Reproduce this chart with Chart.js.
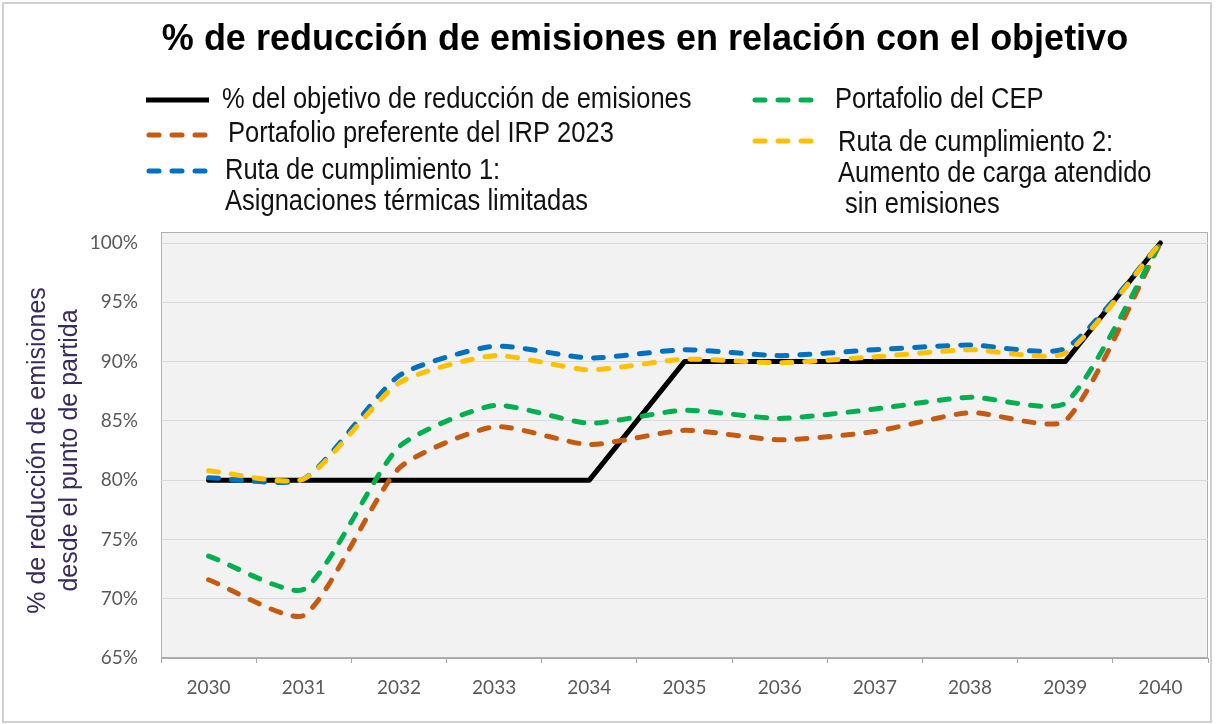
<!DOCTYPE html>
<html>
<head>
<meta charset="utf-8">
<script src="https://cdn.jsdelivr.net/npm/chart.js@4"></script>
<style>
  html, body { margin: 0; padding: 0; background: #fff; }
  #wrap { width: 1225px; height: 724px; }
</style>
</head>
<body>
<div id="wrap"><canvas id="chart" width="1225" height="724"></canvas></div>
<script>
const years = ['2030', '2031', '2032', '2033', '2034', '2035', '2036', '2037', '2038', '2039', '2040'];
const objetivo = [80, 80, 80, 80, 80, 90, 90, 90, 90, 90, 100];
const irp2023 = [71.6, 68.6, 81.0, 84.5, 83.0, 84.2, 83.4, 84.1, 85.7, 85.0, 100];
const cep = [73.6, 70.8, 82.8, 86.3, 84.8, 85.9, 85.2, 86.0, 87.0, 86.5, 100];
const ruta1 = [80.2, 80.1, 88.8, 91.3, 90.3, 91.0, 90.5, 91.0, 91.4, 91.1, 100];
const ruta2 = [80.8, 80.1, 88.2, 90.5, 89.3, 90.2, 89.9, 90.4, 91.0, 90.7, 100];

const titulo = '% de reducción de emisiones en relación con el objetivo';
const tituloEje = ['% de reducción de emisiones', 'desde el punto de partida'];

const dash = [10, 13];

// fondo gris del área de trazado + marco exterior
const fondo = {
  id: 'fondo',
  beforeDraw(chart) {
    const { ctx, chartArea: a } = chart;
    ctx.save();
    ctx.fillStyle = '#fff';
    ctx.fillRect(0, 0, chart.width, chart.height);
    ctx.strokeStyle = '#d0d0d0';
    ctx.lineWidth = 2;
    ctx.strokeRect(3, 3, 1208, 719);
    ctx.fillStyle = '#f2f2f2';
    ctx.fillRect(a.left, a.top - 11, a.right - a.left, a.bottom - a.top + 11);
    ctx.strokeStyle = '#b0b0b0';
    ctx.lineWidth = 1;
    ctx.strokeRect(a.left + 0.5, a.top - 10.5, a.right - a.left - 1, a.bottom - a.top + 10);
    ctx.restore();
  }
};

// título y leyenda en dos columnas
const leyenda = {
  id: 'leyenda',
  afterDraw(chart) {
    const ctx = chart.ctx;
    const ds = chart.data.datasets;
    ctx.save();
    ctx.fillStyle = '#000';
    ctx.font = 'bold 36px "Liberation Sans", Arial, sans-serif';
    ctx.textAlign = 'center';
    ctx.textBaseline = 'middle';
    ctx.fillText(titulo, 645, 40);

    const pos = [
      { x: 146, y: 100, tx: 222, ty: 100 },
      { x: 752, y: 100, tx: 835, ty: 100 },
      { x: 146, y: 135, tx: 228, ty: 134 },
      { x: 752, y: 141, tx: 838, ty: 143 },
      { x: 146, y: 171, tx: 225, ty: 171 }
    ];
    const orden = [4, 2, 3, 0, 1];
    ctx.font = '29px "Liberation Sans", Arial, sans-serif';
    ctx.textAlign = 'left';
    orden.forEach((k, i) => {
      const d = ds[k];
      const p = pos[i];
      ctx.strokeStyle = d.borderColor;
      ctx.lineWidth = 5;
      ctx.lineCap = d.borderDash ? 'round' : 'butt';
      ctx.setLineDash(d.borderDash || []);
      ctx.beginPath();
      ctx.moveTo(p.x + (d.borderDash ? 3 : 0), p.y);
      ctx.lineTo(p.x + 63, p.y);
      ctx.stroke();
      ctx.setLineDash([]);
      ctx.fillStyle = '#111';
      d.label.split('\n').forEach((t, j) => {
        ctx.save();
        ctx.translate(p.tx, p.ty + j * 31);
        ctx.scale(0.88, 1);
        ctx.fillText(t, 0, 0);
        ctx.restore();
      });
    });
    ctx.restore();
  }
};

new Chart(document.getElementById('chart'), {
  type: 'line',
  data: {
    labels: years,
    datasets: [
      {
        label: 'Ruta de cumplimiento 2:\nAumento de carga atendido\n sin emisiones',
        data: ruta2,
        borderColor: '#FFC000',
        borderDash: dash,
        order: 0
      },
      {
        label: 'Ruta de cumplimiento 1:\nAsignaciones térmicas limitadas',
        data: ruta1,
        borderColor: '#0070C0',
        borderDash: dash,
        order: 1
      },
      {
        label: 'Portafolio del CEP',
        data: cep,
        borderColor: '#00B050',
        borderDash: dash,
        order: 2
      },
      {
        label: 'Portafolio preferente del IRP 2023',
        data: irp2023,
        borderColor: '#C55A11',
        borderDash: dash,
        order: 3
      },
      {
        label: '% del objetivo de reducción de emisiones',
        data: objetivo,
        borderColor: '#000000',
        tension: 0,
        order: 4
      }
    ]
  },
  options: {
    responsive: false,
    animation: false,
    layout: { padding: { top: 243, right: 17, bottom: 0, left: 0 } },
    datasets: { line: { clip: false } },
    elements: {
      line: { borderWidth: 5, tension: 0.2, borderCapStyle: 'round', borderJoinStyle: 'round' },
      point: { radius: 0 }
    },
    plugins: {
      legend: { display: false },
      tooltip: { enabled: false }
    },
    scales: {
      x: {
        offset: true,
        grid: {
          offset: true,
          drawOnChartArea: false,
          drawTicks: true,
          tickLength: 5,
          color: '#a6a6a6'
        },
        border: { color: '#a6a6a6' },
        ticks: {
          color: '#595959',
          padding: 13,
          font: { family: 'Lato, "Open Sans", sans-serif', size: 19 }
        },
        afterFit(scale) { scale.height = 66; }
      },
      y: {
        min: 65,
        max: 100,
        ticks: {
          stepSize: 5,
          color: '#595959',
          padding: 23,
          font: { family: 'Lato, "Open Sans", sans-serif', size: 19 },
          callback: v => v + '%'
        },
        grid: { color: '#d9d9d9', drawTicks: false },
        border: { display: false },
        title: {
          display: true,
          text: tituloEje,
          color: '#3a2a5a',
          font: { family: '"Liberation Sans", Arial, sans-serif', size: 25, lineHeight: 1.28 },
          padding: { top: 22, bottom: 0 }
        },
        afterFit(scale) { scale.width = 161; }
      }
    }
  },
  plugins: [fondo, leyenda]
});
</script>
</body>
</html>
